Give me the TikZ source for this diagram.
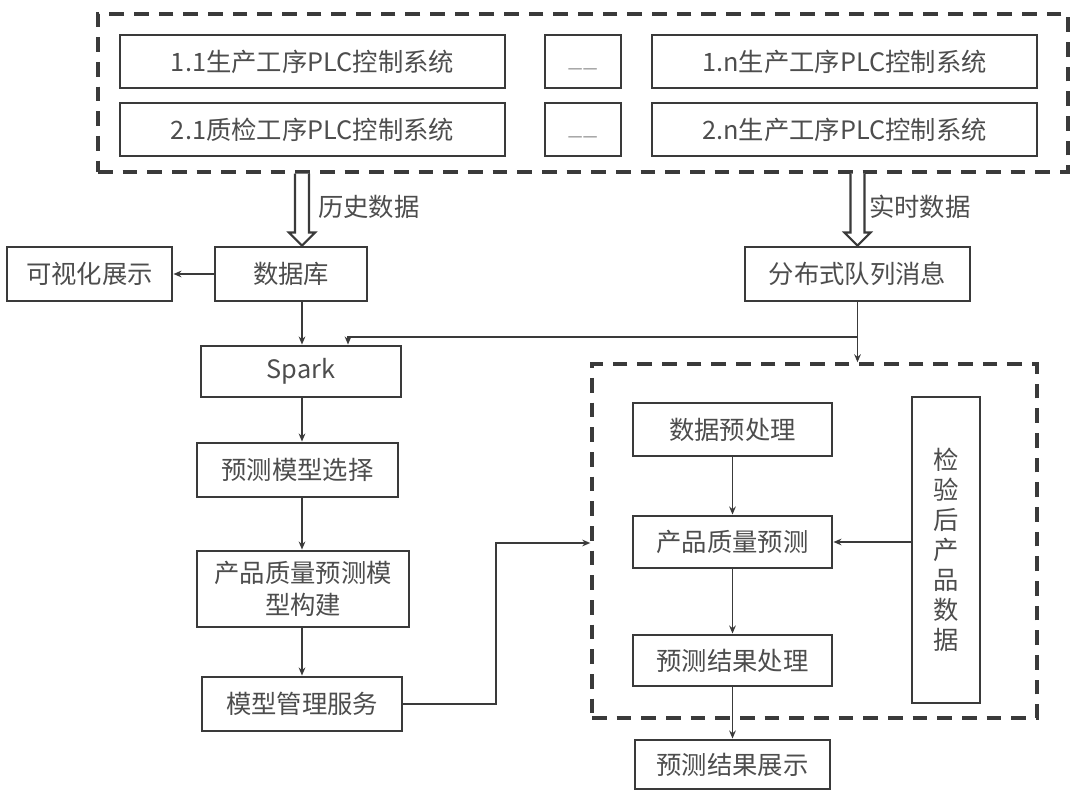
\documentclass[tikz,border=0pt]{standalone}
\usepackage{fontspec}
\setmainfont{Noto Sans CJK SC}
\usetikzlibrary{calc,arrows.meta}
\definecolor{ln}{HTML}{3A3A3A}
\definecolor{tx}{HTML}{4D4D4D}
% #1 name, #2 x1, #3 y1, #4 x2, #5 y2, #6 extra options, #7 text
\newcommand\mkbox[7]{\node[box, minimum width={(#4-#2)*0.75pt}, minimum height={(#5-#3)*0.75pt}, #6] (#1) at ({(#2+#4)/2},{(#3+#5)/2}) {#7};}
\begin{document}
\begin{tikzpicture}[x=0.75pt,y=-0.75pt,
  box/.style={draw=ln, line width=2.2pt, inner sep=0pt, text=tx, font=\fontsize{19pt}{24pt}\selectfont, align=center},
  dbox/.style={draw=ln, line width=2.6pt, dash pattern=on 11pt off 7.5pt, text=tx},
  conn/.style={draw=ln, line width=1.4pt, -{Stealth[length=6pt,width=5pt]}},
  hol/.style={draw=ln, line width=1.6pt, fill=white, line join=miter},
  lbl/.style={text=tx, font=\fontsize{19pt}{24pt}\selectfont, anchor=west, inner sep=0pt},
  gapmark/.style={text=black!35, text height=0.88em, text depth=0.12em}
]
\useasboundingbox (0,0) rectangle (1071,791);
\fill[white] (0,0) rectangle (1071,791);

% top dashed group
\mkbox{top}{98}{14}{1068}{172}{dbox}{}
\mkbox{p11}{120}{35}{505}{88}{}{1.1生产工序PLC控制系统}
\mkbox{d1}{545}{35}{621}{88}{gapmark}{\_\_}
\mkbox{p1n}{652}{35}{1037}{88}{}{1.n生产工序PLC控制系统}
\mkbox{p21}{120}{103}{505}{156}{}{2.1质检工序PLC控制系统}
\mkbox{d2}{545}{103}{621}{156}{gapmark}{\_\_}
\mkbox{p2n}{652}{103}{1037}{156}{}{2.n生产工序PLC控制系统}

% middle
\mkbox{vis}{7}{247}{172}{301}{}{可视化展示}
\mkbox{db}{215}{247}{367}{301}{}{数据库}
\mkbox{dq}{745}{247}{970}{301}{}{分布式队列消息}
\mkbox{sp}{201}{346}{401}{397}{}{Spark}

% left column
\mkbox{sel}{197}{443}{398}{497}{}{预测模型选择}
\mkbox{bld}{197}{551}{409}{627}{}{产品质量预测模\\型构建}
\mkbox{mm}{202}{677}{402}{731}{}{模型管理服务}

% lower dashed group
\mkbox{low}{592}{364}{1037}{718}{dbox}{}
\mkbox{pre}{633}{403}{832}{456}{}{数据预处理}
\mkbox{qp}{633}{516}{832}{568}{}{产品质量预测}
\mkbox{res}{633}{635}{832}{686}{}{预测结果处理}
\mkbox{chk}{912}{397}{980}{703}{font=\fontsize{19pt}{22.5pt}\selectfont}{检\\验\\后\\产\\品\\数\\据}
\mkbox{show}{635}{740}{830}{789}{}{预测结果展示}

% hollow arrows
\coordinate (hx) at (302,0);
\coordinate (ha) at (hx |- top.south);
\coordinate (hb) at (hx |- db.north);
\draw[hol] ($(ha)+(-7,0)$) -- ($(hb)+(-7,-13)$) -- ($(hb)+(-13,-13)$) -- (hb) -- ($(hb)+(13,-13)$) -- ($(hb)+(7,-13)$) -- ($(ha)+(7,0)$);
\coordinate (ra) at (dq.north |- top.south);
\coordinate (rb) at (dq.north);
\draw[hol] ($(ra)+(-7,0)$) -- ($(rb)+(-7,-13)$) -- ($(rb)+(-13,-13)$) -- (rb) -- ($(rb)+(13,-13)$) -- ($(rb)+(7,-13)$) -- ($(ra)+(7,0)$);
\node[lbl] (l1) at (318,207) {历史数据};
\node[lbl] (l2) at (869,207) {实时数据};

% connectors
\draw[conn] (db.west) -- (vis.east);
\draw[conn] (hx |- db.south) -- (hx |- sp.north);
\coordinate (j) at (dq.south |- 0,337);
\coordinate (k) at (348,337);
\draw[conn] (dq.south) |- (k) -- (k |- sp.north);
\draw[conn] (j) -- (j |- low.north);
\draw[conn] (hx |- sp.south) -- (hx |- sel.north);
\draw[conn] (hx |- sel.south) -- (hx |- bld.north);
\draw[conn] (hx |- bld.south) -- (hx |- mm.north);
\coordinate (t) at (496,543);
\draw[conn] (mm.east) -| (t) -- (t -| low.west);
\draw[conn] (pre.south) -- (qp.north);
\draw[conn] (chk.west |- qp.east) -- (qp.east);
\draw[conn] (qp.south) -- (res.north);
\draw[conn] (res.south) -- (show.north);
\end{tikzpicture}
\end{document}
